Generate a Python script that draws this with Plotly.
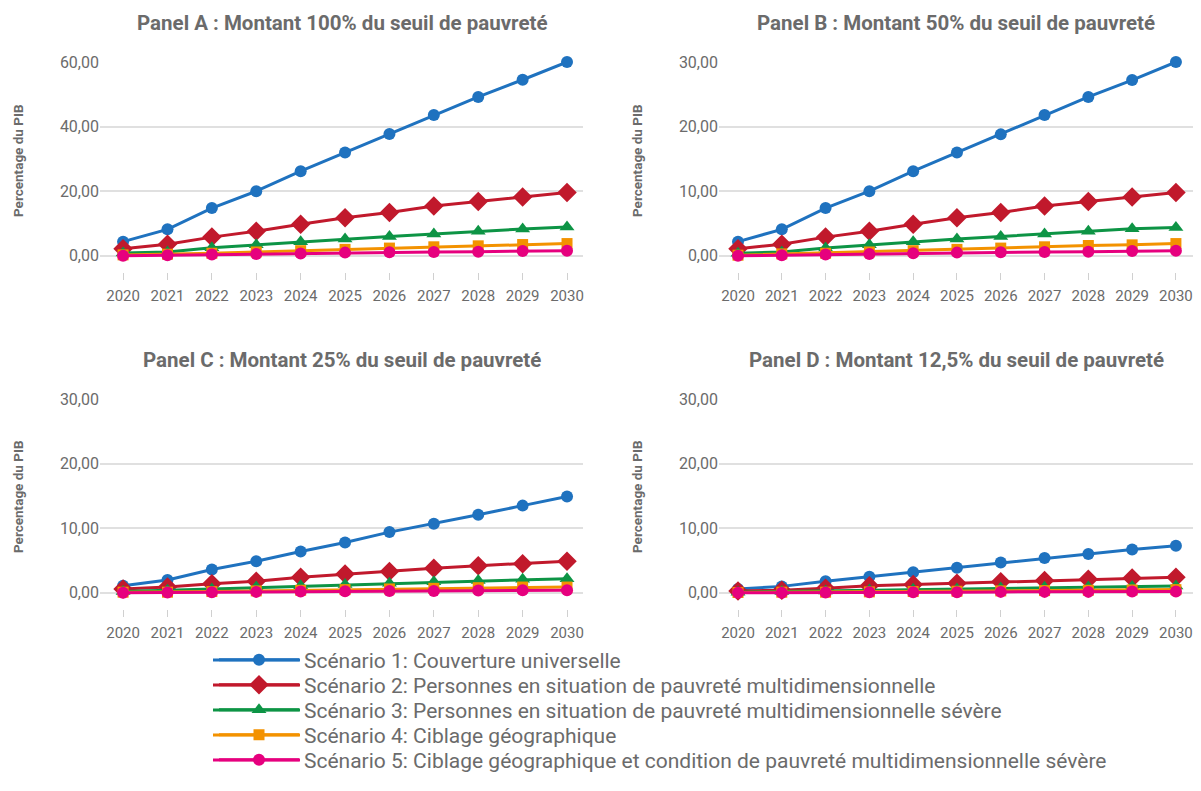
import plotly.graph_objects as go

years = [2020, 2021, 2022, 2023, 2024, 2025, 2026, 2027, 2028, 2029, 2030]

series_names = [
    "Scénario 1: Couverture universelle",
    "Scénario 2: Personnes en situation de pauvreté multidimensionnelle",
    "Scénario 3: Personnes en situation de pauvreté multidimensionnelle sévère",
    "Scénario 4: Ciblage géographique",
    "Scénario 5: Ciblage géographique et condition de pauvreté multidimensionnelle sévère",
]

panel_titles = [
    "Panel A : Montant 100% du seuil de pauvreté",
    "Panel B : Montant 50% du seuil de pauvreté",
    "Panel C : Montant 25% du seuil de pauvreté",
    "Panel D : Montant 12,5% du seuil de pauvreté",
]

y_title = "Percentage du PIB"

# Panel A (100%)
a_s1 = [4.4, 8.2, 14.8, 20.0, 26.2, 32.0, 37.7, 43.6, 49.2, 54.5, 60.0]
a_s2 = [2.2, 3.6, 5.8, 7.6, 9.8, 11.8, 13.4, 15.4, 16.8, 18.2, 19.6]
a_s3 = [0.9, 1.2, 2.5, 3.4, 4.4, 5.2, 6.0, 6.8, 7.6, 8.3, 8.9]
a_s4 = [0.3, 0.5, 0.8, 1.2, 1.6, 2.0, 2.4, 2.8, 3.1, 3.5, 3.8]
a_s5 = [0.0, 0.2, 0.4, 0.6, 0.7, 1.0, 1.1, 1.2, 1.3, 1.5, 1.6]

# Panel B (50%)
b_s1 = [2.2, 4.1, 7.4, 10.0, 13.1, 16.0, 18.8, 21.8, 24.6, 27.2, 30.0]
b_s2 = [1.1, 1.8, 2.9, 3.8, 4.9, 5.9, 6.7, 7.7, 8.4, 9.1, 9.8]
b_s3 = [0.4, 0.6, 1.2, 1.7, 2.2, 2.6, 3.0, 3.4, 3.8, 4.2, 4.4]
b_s4 = [0.1, 0.3, 0.4, 0.6, 0.8, 1.0, 1.2, 1.4, 1.6, 1.7, 1.9]
b_s5 = [0.0, 0.1, 0.2, 0.3, 0.4, 0.5, 0.55, 0.6, 0.65, 0.75, 0.8]

# Panel C (25%)
c_s1 = [1.1, 2.0, 3.6, 4.9, 6.4, 7.8, 9.4, 10.7, 12.1, 13.5, 14.9]
c_s2 = [0.6, 0.9, 1.4, 1.8, 2.4, 2.9, 3.3, 3.8, 4.2, 4.5, 4.9]
c_s3 = [0.2, 0.4, 0.6, 0.9, 1.1, 1.3, 1.5, 1.7, 1.9, 2.1, 2.2]
c_s4 = [0.1, 0.1, 0.2, 0.3, 0.4, 0.5, 0.6, 0.7, 0.8, 0.9, 0.9]
c_s5 = [0.0, 0.05, 0.1, 0.15, 0.2, 0.25, 0.3, 0.3, 0.35, 0.4, 0.4]

# Panel D (12,5%)
d_s1 = [0.6, 1.0, 1.8, 2.5, 3.2, 3.9, 4.7, 5.4, 6.0, 6.7, 7.3]
d_s2 = [0.3, 0.4, 0.7, 1.1, 1.3, 1.5, 1.7, 1.9, 2.1, 2.3, 2.4]
d_s3 = [0.1, 0.2, 0.3, 0.45, 0.55, 0.6, 0.75, 0.85, 0.9, 1.0, 1.05]
d_s4 = [0.05, 0.1, 0.1, 0.15, 0.2, 0.25, 0.3, 0.35, 0.4, 0.45, 0.5]
d_s5 = [0.0, 0.0, 0.05, 0.1, 0.1, 0.1, 0.15, 0.15, 0.15, 0.2, 0.2]

panels = [
    [a_s1, a_s2, a_s3, a_s4, a_s5],
    [b_s1, b_s2, b_s3, b_s4, b_s5],
    [c_s1, c_s2, c_s3, c_s4, c_s5],
    [d_s1, d_s2, d_s3, d_s4, d_s5],
]

y_tickvals = [
    [0, 20, 40, 60],
    [0, 10, 20, 30],
    [0, 10, 20, 30],
    [0, 10, 20, 30],
]

colors = ["#1f72bf", "#c1192c", "#0d9445", "#f39200", "#e6007e"]
symbols = ["circle", "diamond", "triangle-up", "square", "circle"]
msizes = [12, 15, 13, 11, 12]

# The page body has an 8px margin: the figure is sized so the page is
# exactly 1201x791, and positions below are given in page pixels.
OFF = 8
OFF_Y = 7
W, H = 1201 - 2 * OFF, 791 - 2 * OFF
GRAY = "#6b6b6b"
FONT = "Roboto"


def fx(px):
    return (px - OFF) / W


def fy(py):
    return 1 - (py - OFF_Y) / H


# pixel boxes for plot areas: (left, right, top, bottom)
boxes = [
    (100, 583, 61, 271),
    (719, 1193, 61, 271),
    (100, 583, 398, 608),
    (719, 1193, 398, 608),
]
x_ranges = [[2019.48, 2030.36], [2019.566, 2030.39], [2019.48, 2030.36], [2019.566, 2030.39]]
y_ranges = [[-5, 60], [-2.5, 30], [-2.5, 30], [-2.5, 30]]
title_y = [22, 22, 359, 359]
ytitle_pos = [(18, 160), (637, 160), (18, 496), (637, 496)]

LEG_FS = 21
leg_rows = [659, 684, 709, 734, 759]

fig = go.Figure()

for p, data in enumerate(panels):
    xa = "x" if p == 0 else f"x{p+1}"
    ya = "y" if p == 0 else f"y{p+1}"
    for i, vals in enumerate(data):
        fig.add_trace(go.Scatter(
            x=years, y=vals, name=series_names[i],
            mode="lines+markers",
            line=dict(color=colors[i], width=3),
            marker=dict(symbol=symbols[i], size=msizes[i], color=colors[i]),
            xaxis=xa, yaxis=ya,
            showlegend=(p == 0),
            legend="legend" if i == 0 else f"legend{i+1}",
            cliponaxis=False,
        ))

layout = dict(
    width=W, height=H,
    margin=dict(l=0, r=0, t=0, b=0),
    paper_bgcolor="white", plot_bgcolor="white",
    font=dict(family=FONT, color=GRAY, size=15),
    separators=", ",
    showlegend=True,
    annotations=[],
    shapes=[],
)

for i in range(5):
    key = "legend" if i == 0 else f"legend{i+1}"
    layout[key] = dict(
        x=fx(214), y=fy(leg_rows[i]), xanchor="left", yanchor="middle",
        font=dict(family=FONT, size=LEG_FS, color=GRAY),
        bgcolor="rgba(0,0,0,0)",
        itemwidth=80,
    )
    # long legend line (decorative extension of the legend symbol)
    layout["shapes"].append(dict(
        type="line", xref="paper", yref="paper",
        x0=fx(213), x1=fx(300), y0=fy(leg_rows[i]), y1=fy(leg_rows[i]),
        line=dict(color=colors[i], width=3), layer="above",
    ))

for p in range(4):
    l, r, t, b = boxes[p]
    sfx = "" if p == 0 else str(p + 1)
    layout["xaxis" + sfx] = dict(
        domain=[fx(l), fx(r)],
        range=x_ranges[p],
        tickvals=years,
        ticktext=[str(y) for y in years],
        showgrid=False, zeroline=False, showline=False,
        ticks="outside", ticklen=7, tickcolor="#d0d0d0", tickwidth=1,
        ticklabelstandoff=3,
        tickfont=dict(family=FONT, size=15, color=GRAY),
        anchor="y" + sfx,
        automargin=False,
        fixedrange=True,
    )
    layout["yaxis" + sfx] = dict(
        domain=[fy(b), fy(t)],
        range=y_ranges[p],
        tickvals=y_tickvals[p],
        tickformat=".2f",
        showgrid=True, gridcolor="#e0e0e0", gridwidth=1.5,
        zeroline=False, showline=False, ticks="",
        tickfont=dict(family=FONT, size=16, color=GRAY),
        anchor="x" + sfx,
        automargin=False,
        fixedrange=True,
    )
    layout["annotations"].append(dict(
        text=panel_titles[p], xref="paper", yref="paper",
        x=fx((l + r) / 2), y=fy(title_y[p]),
        xanchor="center", yanchor="middle", showarrow=False,
        font=dict(family=FONT, size=20.5, color=GRAY, weight="bold"),
    ))
    tx, ty = ytitle_pos[p]
    layout["annotations"].append(dict(
        text=y_title, xref="paper", yref="paper",
        x=fx(tx), y=fy(ty), textangle=-90,
        xanchor="center", yanchor="middle", showarrow=False,
        font=dict(family=FONT, size=13.5, color=GRAY, weight="bold"),
    ))

fig.update_layout(**layout)
fig.write_html("out.html")
